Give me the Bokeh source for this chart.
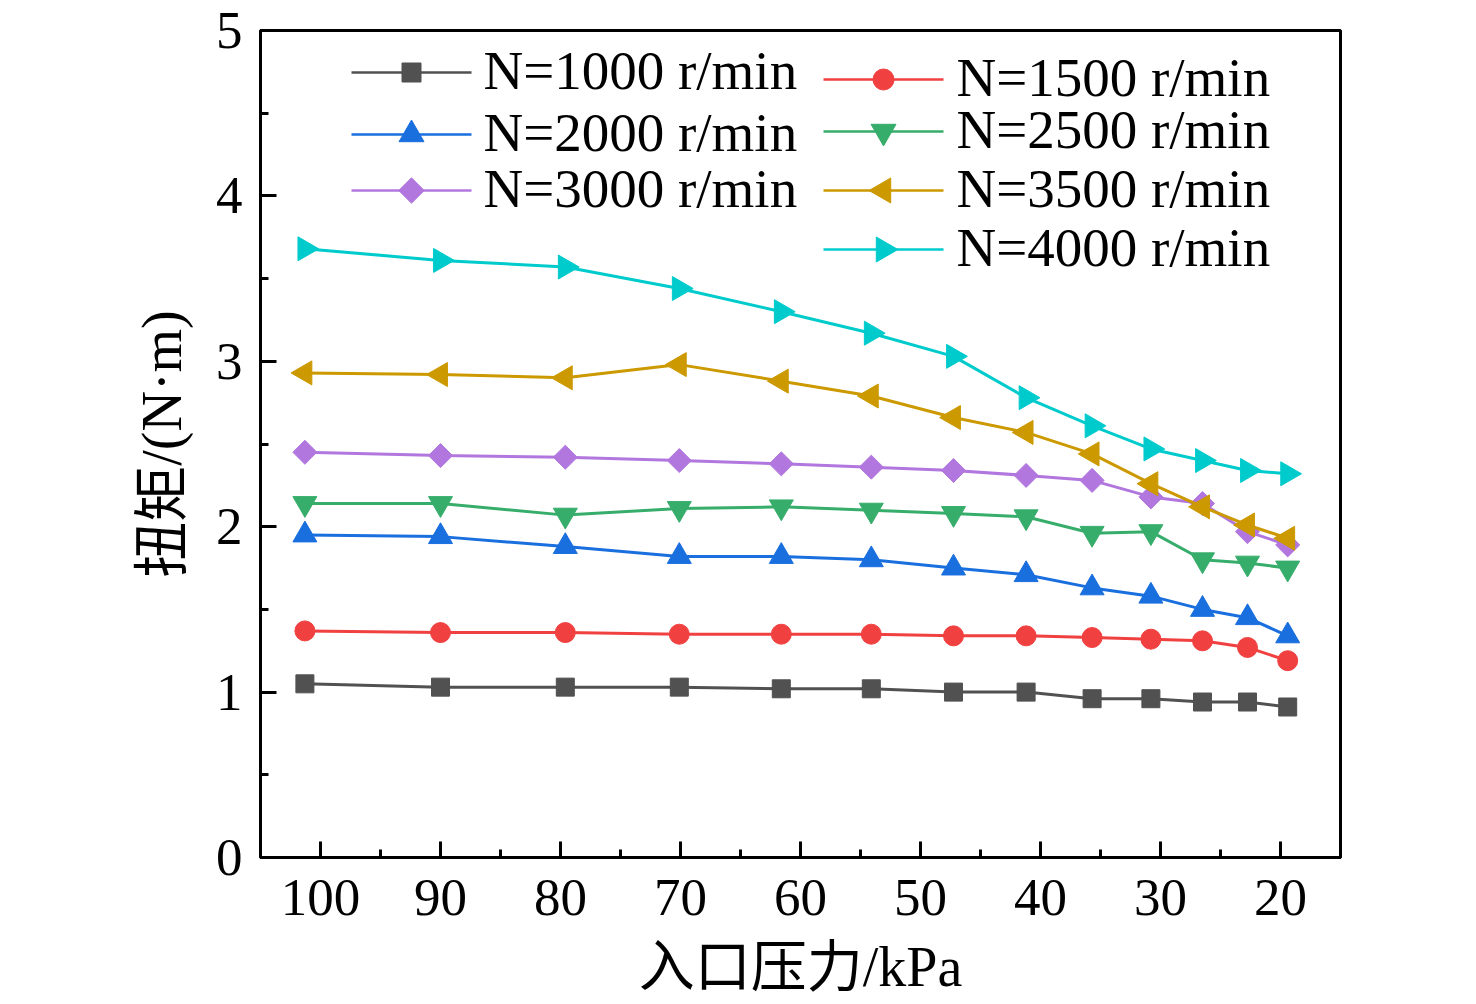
import math
from bokeh.plotting import figure
from bokeh.models import Range1d, SingleIntervalTicker, Label
from bokeh.embed import file_html
from bokeh.resources import INLINE

# inlet pressure (kPa), shared by all speeds
pressure = [101.3, 90.0, 79.6, 70.1, 61.6, 54.1, 47.25, 41.2, 35.7, 30.8, 26.5, 22.75, 19.4]

# torque (N·m) per rotational speed
n1000 = [1.05, 1.03, 1.03, 1.03, 1.02, 1.02, 1.00, 1.00, 0.96, 0.96, 0.94, 0.94, 0.91]
n1500 = [1.37, 1.36, 1.36, 1.35, 1.35, 1.35, 1.34, 1.34, 1.33, 1.32, 1.31, 1.27, 1.19]
n2000 = [1.95, 1.94, 1.88, 1.82, 1.82, 1.80, 1.75, 1.71, 1.63, 1.58, 1.50, 1.45, 1.34]
n2500 = [2.14, 2.14, 2.07, 2.11, 2.12, 2.10, 2.08, 2.06, 1.96, 1.97, 1.80, 1.78, 1.75]
n3000 = [2.45, 2.43, 2.42, 2.40, 2.38, 2.36, 2.34, 2.31, 2.28, 2.18, 2.14, 1.97, 1.89]
n3500 = [2.93, 2.92, 2.90, 2.98, 2.88, 2.79, 2.66, 2.57, 2.44, 2.26, 2.12, 2.01, 1.93]
n4000 = [3.68, 3.61, 3.57, 3.44, 3.30, 3.17, 3.03, 2.78, 2.61, 2.47, 2.40, 2.34, 2.32]

labels = ["N=1000 r/min", "N=1500 r/min", "N=2000 r/min", "N=2500 r/min",
          "N=3000 r/min", "N=3500 r/min", "N=4000 r/min"]

FONT = "'Liberation Serif', 'Noto Sans CJK SC'"

# frame edges in page pixels
LEFT, RIGHT, TOP, BOTTOM = 260, 1340, 30, 857
W, H = 1460, 1004

p = figure(width=W, height=H, output_backend="svg", toolbar_location=None,
           x_range=Range1d(105, 15), y_range=Range1d(0, 5),
           min_border_left=LEFT, min_border_right=W - RIGHT,
           min_border_top=TOP, min_border_bottom=H - BOTTOM)
# pixel ranges for placing the legend block
p.extra_x_ranges = {"px": Range1d(LEFT, RIGHT)}
p.extra_y_ranges = {"py": Range1d(BOTTOM, TOP)}

p.grid.visible = False
p.outline_line_color = "black"
p.outline_line_width = 3
p.outline_line_alpha = 1

p.xaxis.ticker = SingleIntervalTicker(interval=10, num_minor_ticks=2)
p.yaxis.ticker = SingleIntervalTicker(interval=1, num_minor_ticks=2)

for ax in (p.xaxis[0], p.yaxis[0]):
    ax.axis_line_width = 3
    ax.major_tick_line_width = 3
    ax.minor_tick_line_width = 3
    ax.major_tick_in = 16
    ax.major_tick_out = 0
    ax.minor_tick_in = 8
    ax.minor_tick_out = 0
    ax.major_label_text_font = FONT
    ax.major_label_text_font_size = "53px"
    ax.major_label_text_color = "black"
    ax.axis_label_text_font = FONT
    ax.axis_label_text_font_size = "56px"
    ax.axis_label_text_font_style = "normal"
    ax.axis_label_text_color = "black"

p.xaxis.axis_label = "入口压力/kPa"
p.xaxis.major_label_standoff = 22
p.xaxis.axis_label_standoff = 18
p.xaxis.major_label_text_line_height = 0.9
p.xaxis.axis_label_text_line_height = 0.9
p.yaxis.axis_label = "扭矩/(N·m)"
p.yaxis.major_label_standoff = 18
p.yaxis.axis_label_standoff = 20

series = [
    (n1000, "#515151", "square", 18, 0),
    (n1500, "#F14040", "circle", 20, 0),
    (n2000, "#1A6FDF", "triangle", 24, 0),
    (n2500, "#37AD6B", "inverted_triangle", 24, 0),
    (n3000, "#B177DE", "square", 17, math.pi / 4),
    (n3500, "#CC9900", "triangle", 24, math.pi / 2),
    (n4000, "#00CBCC", "triangle", 24, -math.pi / 2),
]

for vals, color, marker, size, angle in series:
    p.line(pressure, vals, line_color=color, line_width=3)
    p.scatter(pressure, vals, marker=marker, size=size, angle=angle,
              fill_color=color, line_color=color)

# legend block: (line start, line end, text start, row y) in page pixels
leg_pos = [
    (351, 471, 483, 72),
    (823, 943, 956, 79),
    (351, 471, 483, 134),
    (823, 943, 956, 131),
    (351, 471, 483, 190),
    (823, 943, 956, 190),
    (823, 943, 956, 249),
]

for (vals, color, marker, size, angle), lab, (x0, x1, xt, y) in zip(series, labels, leg_pos):
    p.segment(x0=[x0], y0=[y], x1=[x1], y1=[y], line_color=color, line_width=2.5,
              x_range_name="px", y_range_name="py")
    p.scatter(x=[(x0 + x1) / 2], y=[y], marker=marker, size=size + 1, angle=angle,
              fill_color=color, line_color=color,
              x_range_name="px", y_range_name="py")
    p.add_layout(Label(x=xt, y=y - 2, x_range_name="px", y_range_name="py",
                       text=lab, text_font=FONT, text_font_size="55px",
                       text_baseline="middle", text_color="black"))

open("out.html", "w").write(file_html(p, INLINE))
